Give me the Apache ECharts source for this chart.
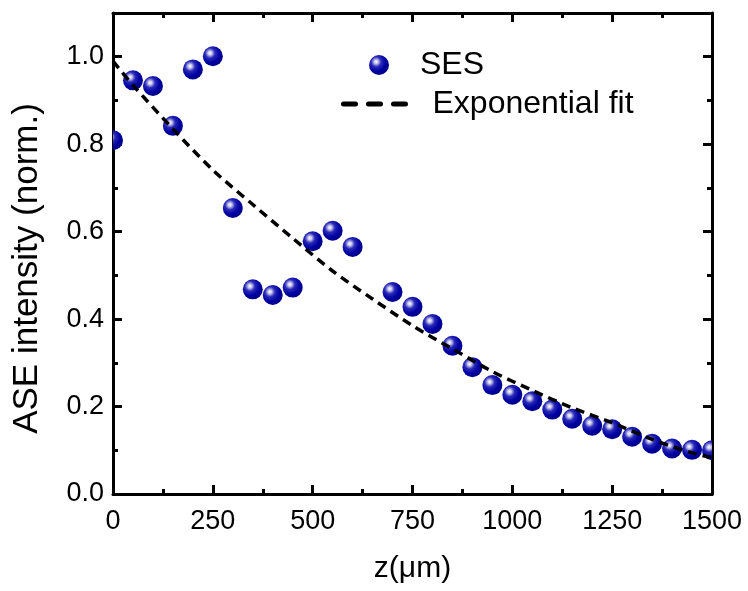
<!DOCTYPE html>
<html>
<head>
<meta charset="utf-8">
<script src="https://cdn.jsdelivr.net/npm/echarts@6/dist/echarts.min.js"></script>
<style>
  html, body { margin: 0; padding: 0; background: #fff; }
  #chart { width: 748px; height: 591px; }
</style>
</head>
<body>
<div id="chart"></div>
<script>
// Measured ASE intensity along the stripe (SES method)
const zPositions = [0, 50, 100, 150, 200, 250, 300, 350, 400, 450, 500, 550, 600,
  700, 750, 800, 850, 900, 950, 1000, 1050, 1100, 1150, 1200, 1250, 1300, 1350, 1400, 1450, 1500];
const sesIntensity = [0.809, 0.946, 0.933, 0.842, 0.971, 1.001, 0.654, 0.468, 0.455, 0.472, 0.578, 0.602, 0.565,
  0.462, 0.428, 0.389, 0.339, 0.290, 0.249, 0.227, 0.212, 0.193, 0.172, 0.156, 0.148, 0.131, 0.115, 0.104, 0.101, 0.100];

// Exponential fit curve, sampled
const fitZ = [0, 50, 150, 250, 350, 450, 550, 650, 750, 850, 950, 1050, 1150, 1250, 1350, 1450, 1500];
const fitIntensity = [0.99, 0.935, 0.835, 0.741, 0.662, 0.585, 0.51, 0.446, 0.385, 0.332, 0.28, 0.237, 0.197, 0.163, 0.125, 0.094, 0.083];

// Axis ranges
const xRange = [0, 1500];
const xStep = 250;
const yRange = [0, 1.1];
const yStep = 0.2;

const FONT = 'Liberation Sans, Arial, Helvetica, sans-serif';

const sphere = {
  type: 'radial', x: 0.36, y: 0.34, r: 0.66,
  colorStops: [
    { offset: 0, color: '#ffffff' },
    { offset: 0.14, color: '#c9c9ef' },
    { offset: 0.38, color: '#2a2ab8' },
    { offset: 0.72, color: '#0000a2' },
    { offset: 1, color: '#00008a' }
  ]
};

const sesData = zPositions.map((z, i) => [z, sesIntensity[i]]);
const fitData = fitZ.map((z, i) => [z, fitIntensity[i]]);

const axisLineStyle = { color: '#000', width: 3 };
const tickStyle = { color: '#000', width: 3 };

function xAxisDef(position, showLabels) {
  return {
    type: 'value', position: position, min: xRange[0], max: xRange[1], interval: xStep,
    axisLine: { show: true, onZero: false, lineStyle: axisLineStyle },
    axisTick: { show: true, inside: true, length: 9, lineStyle: tickStyle },
    minorTick: { show: true, splitNumber: 2, length: 5, lineStyle: tickStyle },
    axisLabel: {
      show: showLabels, color: '#000', fontSize: 27, fontFamily: FONT, margin: 14,
      formatter: v => String(v)
    },
    splitLine: { show: false }
  };
}

function yAxisDef(position, showLabels, step, tickLen, showLine) {
  return {
    type: 'value', position: position, min: yRange[0], max: yRange[1], interval: step,
    axisLine: { show: showLine, onZero: false, lineStyle: axisLineStyle },
    axisTick: { show: true, inside: true, length: tickLen, lineStyle: tickStyle },
    axisLabel: {
      show: showLabels, color: '#000', fontSize: 27, fontFamily: FONT, margin: 9,
      showMaxLabel: false, formatter: v => v.toFixed(1)
    },
    splitLine: { show: false }
  };
}

const chart = echarts.init(document.getElementById('chart'), null, { renderer: 'canvas' });

const yMain = yAxisDef('left', true, yStep, 9, true);
yMain.name = 'ASE intensity (norm.)';
yMain.nameLocation = 'middle';
yMain.nameGap = 68;
yMain.nameTextStyle = { color: '#000', fontSize: 35, fontFamily: FONT, padding: [0, 30, 0, 0] };

const xMain = xAxisDef('bottom', true);
xMain.name = 'z(\u03BCm)';
xMain.nameLocation = 'middle';
xMain.nameGap = 60;
xMain.nameTextStyle = { color: '#000', fontSize: 30, fontFamily: FONT };

chart.setOption({
  animation: false,
  backgroundColor: '#fff',
  grid: { left: 113, right: 36, top: 13, bottom: 97, containLabel: false },
  xAxis: [xMain, xAxisDef('top', false)],
  yAxis: [
    yMain,
    yAxisDef('right', false, yStep, 9, true),
    yAxisDef('left', false, 0.1, 5, false),
    yAxisDef('right', false, 0.1, 5, false)
  ],
  legend: [
    {
      data: [{ name: 'SES', icon: 'circle', itemStyle: { color: sphere } }],
      left: 369, top: 49, padding: 0,
      itemWidth: 20, itemHeight: 20,
      textStyle: { color: '#000', fontSize: 32, fontFamily: FONT, padding: [0, 0, 0, 26] }
    },
    {
      data: ['Exponential fit'],
      left: 341, top: 88, padding: 0,
      itemWidth: 64, itemHeight: 14,
      itemStyle: { opacity: 0 },
      lineStyle: { color: '#000', width: 5, type: [12, 13], cap: 'round' },
      textStyle: { color: '#000', fontSize: 32, fontFamily: FONT, padding: [0, 0, 0, 20] }
    }
  ],
  series: [
    {
      name: 'SES',
      type: 'custom',
      xAxisIndex: 0, yAxisIndex: 0,
      clip: true,
      itemStyle: { color: sphere },
      data: sesData,
      renderItem: function (params, api) {
        const p = api.coord([api.value(0), api.value(1)]);
        return {
          type: 'circle',
          shape: { cx: p[0], cy: p[1], r: 10 },
          style: { fill: sphere }
        };
      },
      z: 2
    },
    {
      name: 'Exponential fit',
      type: 'line',
      xAxisIndex: 0, yAxisIndex: 0,
      data: fitData,
      smooth: 0.3,
      symbol: 'none',
      lineStyle: { color: '#000', width: 3.5, type: [9, 6] },
      z: 3
    }
  ]
});
</script>
</body>
</html>
